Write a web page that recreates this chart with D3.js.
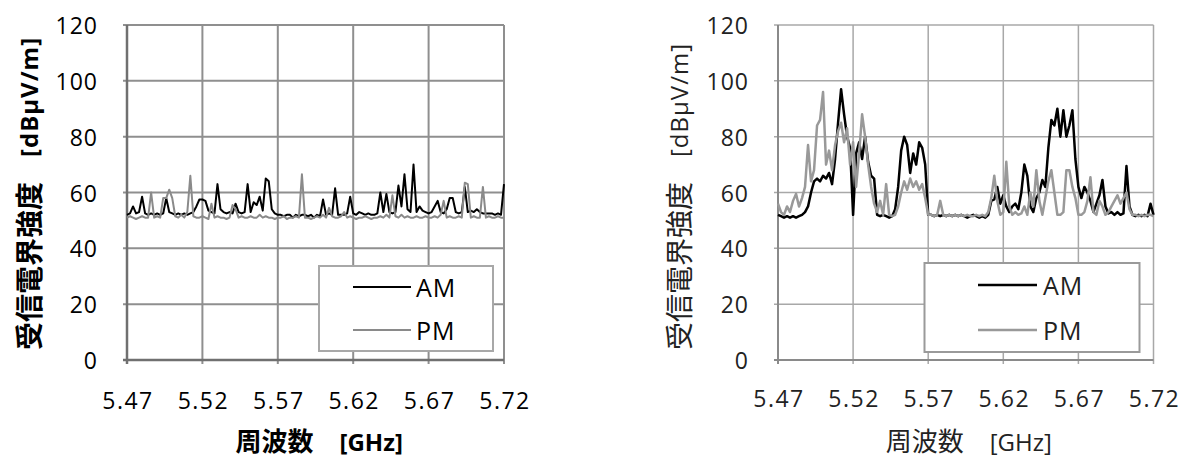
<!DOCTYPE html>
<html>
<head>
<meta charset="utf-8">
<script src="https://cdn.jsdelivr.net/npm/d3@7"></script>
<style>
  body { margin: 0; background: #fff; }
</style>
</head>
<body>
<div id="chart"></div>
<script>
// sweep grid of the receiver (GHz)
var startGHz = 5.47, stepGHz = 0.002;
var xTicks = [5.47, 5.52, 5.57, 5.62, 5.67, 5.72];
var yTicks = [0, 20, 40, 60, 80, 100, 120];
var seriesNames = ["AM", "PM"];

// left panel, received field strength [dBuV/m]
var leftAM = [
  52, 52.5, 55, 52.5, 53, 58.5, 52.5, 52, 52.5, 52,
  52.5, 52, 52.5, 58, 53, 52.5, 52, 52.5, 52, 52.5,
  52, 52.5, 53, 55, 57.5, 57.5, 57, 53.5, 53, 52.5,
  63, 54, 53, 52.5, 53, 52.5, 56, 53, 52.5, 53,
  63, 53, 56.5, 55.5, 58.5, 53.5, 65, 64, 54, 52.5,
  52, 52, 51.5, 52, 52, 51, 52, 51.5, 52, 52,
  51.5, 52, 51, 52, 51.5, 57.5, 52, 52.5, 52, 61.5,
  52, 52, 52, 52.5, 58.5, 52.5, 52, 53, 52.5, 52,
  52.5, 52, 52, 52.5, 60, 53, 59.5, 53, 52.5, 53,
  62.5, 55, 66.5, 54, 53, 70, 53, 55, 53.5, 53,
  52.5, 53, 55, 57, 53, 52.5, 54, 58, 58, 53,
  52.5, 53, 62, 53, 53.5, 53, 54, 53, 52.5, 52.5,
  52.5, 52.5, 52, 52.5, 52, 63
];
var leftPM = [
  51, 51.5, 51, 50.5, 51, 51.5, 51, 51, 60, 51,
  51.5, 51, 58, 58, 61, 58, 51.5, 51, 52, 51,
  53, 66, 51.5, 51, 51, 51.5, 51, 50.5, 56, 51,
  51.5, 51, 51, 50.5, 51, 55.5, 54, 51, 51.5, 51,
  51, 51.5, 51, 51, 52, 51, 51.5, 51, 51, 50.5,
  51, 51, 51.5, 50.5, 51, 51, 51.5, 51, 66.5, 51,
  51, 50.5, 51, 51.5, 51, 52, 51, 54.5, 51.5, 51,
  51, 51.5, 53, 51, 51.5, 51, 50.5, 51, 51, 51.5,
  51, 50.5, 51, 51, 51.5, 51, 52, 51, 59, 51.5,
  51, 52, 51, 51.5, 51, 51, 51.5, 51, 51, 51.5,
  51, 51, 51.5, 51, 52, 57, 51, 51.5, 51, 51,
  51.5, 51, 63.5, 63, 51, 51.5, 51, 51, 62, 51,
  51.5, 51, 51, 51.5, 51, 51
];

// right panel
var rightAM = [
  52, 51.5, 51, 51.5, 51, 51.5, 51, 51.5, 52, 53,
  55, 60, 64, 65, 64, 66, 65, 67, 63, 72,
  85, 97, 88, 80, 76, 52, 74, 78, 72, 80,
  71, 66, 65, 52, 51.5, 52, 51.5, 51, 51.5, 54,
  62, 75, 80, 77, 67, 74, 70, 78, 76, 70,
  52, 52, 51.5, 52, 51.5, 52, 51.5, 52, 51.5, 52,
  51.5, 52, 51.5, 51, 51.5, 52, 51.5, 51, 51.5, 51,
  52, 57, 57.5, 62, 56, 59, 55, 53, 55, 56,
  54, 60, 70, 66, 55, 53, 58, 60, 64.5, 62,
  76, 86, 84, 90, 80, 89.5, 80, 84, 89.5, 72,
  62, 58, 62, 60, 57, 53, 56, 59, 64.5, 55,
  52.5, 53, 52, 53, 52, 52.5, 69.5, 55, 52, 51.5,
  52, 51.5, 52, 51.5, 56, 52
];
var rightPM = [
  56, 53, 52, 55, 53, 57, 59.5, 55, 58, 62,
  77, 64, 68, 84, 86, 96, 70, 75, 68, 77,
  82, 85, 78, 83, 70, 78, 62, 74, 88, 80,
  70, 62, 56, 53, 57, 52, 63, 52, 51.5, 52,
  55, 60, 64, 61, 65, 62, 64, 61, 63, 58,
  52, 52, 51.5, 52, 57, 52, 51.5, 52, 51.5, 52,
  51.5, 52, 51.5, 52, 51.5, 51.5, 52, 51.5, 52, 51.5,
  53, 58, 66, 57, 52, 53, 71, 55, 52, 53,
  52, 52.5, 55, 52, 60, 55, 68, 57, 52, 58,
  64, 68, 60, 52, 52, 53, 68, 68, 62, 58,
  52, 52, 53, 57, 65.5, 53, 52, 57, 55, 52,
  53, 55, 57, 59, 56, 58, 60, 54, 52, 52,
  51.5, 52, 51.5, 52, 52, 51.5
];

var svg = d3.select("#chart").append("svg")
    .attr("width", 1184)
    .attr("height", 458);

function drawPanel(cfg) {
  var g = svg.append("g");
  var x = d3.scaleLinear().domain([5.47, 5.72]).range([cfg.left, cfg.right]);
  var y = d3.scaleLinear().domain([0, 120]).range([cfg.bottom, cfg.top]);

  // grid
  g.selectAll(".hg").data(yTicks).enter().append("line")
    .attr("x1", cfg.left - 4).attr("x2", cfg.right)
    .attr("y1", function(d) { return y(d); }).attr("y2", function(d) { return y(d); })
    .attr("stroke", cfg.grid).attr("stroke-width", cfg.gridW);
  g.selectAll(".vg").data(xTicks).enter().append("line")
    .attr("x1", function(d) { return x(d); }).attr("x2", function(d) { return x(d); })
    .attr("y1", cfg.top).attr("y2", cfg.bottom + 4)
    .attr("stroke", cfg.grid).attr("stroke-width", cfg.gridW);
  // axes
  g.append("line").attr("x1", cfg.left).attr("x2", cfg.left)
    .attr("y1", cfg.top).attr("y2", cfg.bottom + 4)
    .attr("stroke", cfg.axis).attr("stroke-width", cfg.gridW + 0.5);
  g.append("line").attr("x1", cfg.left - 4).attr("x2", cfg.right)
    .attr("y1", cfg.bottom).attr("y2", cfg.bottom)
    .attr("stroke", cfg.axis).attr("stroke-width", cfg.gridW + 0.5);

  // tick labels
  g.selectAll(".yl").data(yTicks).enter().append("text")
    .attr("x", cfg.left - 29).attr("y", function(d) { return y(d); })
    .attr("text-anchor", "end").attr("dominant-baseline", "central")
    .attr("font-family", "'Open Sans', sans-serif").attr("font-size", 23)
    .attr("letter-spacing", 1).attr("fill", cfg.text)
    .text(function(d) { return d; });
  g.selectAll(".xl").data(xTicks).enter().append("text")
    .attr("x", function(d) { return x(d) + 1; }).attr("y", cfg.xLabelY)
    .attr("text-anchor", "middle").attr("dominant-baseline", "central")
    .attr("font-family", "'Open Sans', sans-serif").attr("font-size", 23)
    .attr("letter-spacing", 1.5).attr("fill", cfg.text)
    .text(function(d) { return d.toFixed(2); });

  // axis titles
  var weight = cfg.bold ? "bold" : "normal";
  var cx = (cfg.left + cfg.right) / 2;
  g.append("text")
    .attr("x", cx - 2).attr("y", 451)
    .attr("text-anchor", "end")
    .attr("font-family", "'Noto Sans CJK JP', sans-serif").attr("font-size", 26)
    .attr("font-weight", weight).attr("fill", cfg.text)
    .text("周波数");
  g.append("text")
    .attr("x", cx + 24).attr("y", 451)
    .attr("font-family", "'Open Sans', sans-serif").attr("font-size", 24)
    .attr("font-weight", weight).attr("fill", cfg.text)
    .text("[GHz]");

  var yg = g.append("g")
    .attr("transform", "translate(" + cfg.yTitleX + ",197) rotate(-90)");
  yg.append("text")
    .attr("x", 15).attr("y", 0)
    .attr("text-anchor", "end").attr("dominant-baseline", "central")
    .attr("font-family", "'Noto Sans CJK JP', sans-serif").attr("font-size", 28)
    .attr("font-weight", weight).attr("fill", cfg.text)
    .text("受信電界強度");
  yg.append("text")
    .attr("x", 40).attr("y", 0)
    .attr("dominant-baseline", "central")
    .attr("font-family", "'Open Sans', sans-serif").attr("font-size", 24)
    .attr("letter-spacing", 1)
    .attr("font-weight", weight).attr("fill", cfg.text)
    .text("[dBμV/m]");

  // series
  var line = d3.line()
    .x(function(d, i) { return x(startGHz + i * stepGHz); })
    .y(function(d) { return y(d); });
  var series = [cfg.am, cfg.pm];
  var colors = ["#000", cfg.pmColor];
  series.forEach(function(s, k) {
    g.append("path").datum(s)
      .attr("fill", "none")
      .attr("stroke", colors[k])
      .attr("stroke-width", cfg.lineW)
      .attr("stroke-linejoin", "round")
      .attr("d", line);
  });

  // legend
  var L = cfg.legend;
  g.append("rect").attr("x", L.x).attr("y", L.y).attr("width", L.w).attr("height", L.h)
    .attr("fill", "#fff").attr("stroke", cfg.legendStroke).attr("stroke-width", 2);
  seriesNames.forEach(function(name, k) {
    var ry = L.rows[k];
    g.append("line").attr("x1", L.x1).attr("x2", L.x2).attr("y1", ry).attr("y2", ry)
      .attr("stroke", colors[k]).attr("stroke-width", cfg.lineW);
    g.append("text").attr("x", L.tx).attr("y", ry)
      .attr("dominant-baseline", "central")
      .attr("font-family", "'Open Sans', sans-serif").attr("font-size", 25)
      .attr("letter-spacing", 1).attr("fill", cfg.text).text(name);
  });
}

drawPanel({
  left: 127, right: 504, top: 25, bottom: 360,
  am: leftAM, pm: leftPM, pmColor: "#8a8a8a",
  grid: "#8f8f8f", axis: "#707070", gridW: 2, lineW: 2,
  text: "#000", bold: true,
  xLabelY: 400, yTitleX: 28, legendStroke: "#a8a8a8",
  legend: { x: 319, y: 266, w: 174, h: 85, x1: 353, x2: 411, tx: 416, rows: [287, 330] }
});

drawPanel({
  left: 778, right: 1153.5, top: 25, bottom: 360,
  am: rightAM, pm: rightPM, pmColor: "#999",
  grid: "#a8a8a8", axis: "#8a8a8a", gridW: 1.5, lineW: 2.5,
  text: "#222", bold: false,
  xLabelY: 398, yTitleX: 678, legendStroke: "#9a9a9a",
  legend: { x: 924.5, y: 263, w: 215, h: 89, x1: 978, x2: 1037, tx: 1043, rows: [285, 330] }
});
</script>
</body>
</html>
